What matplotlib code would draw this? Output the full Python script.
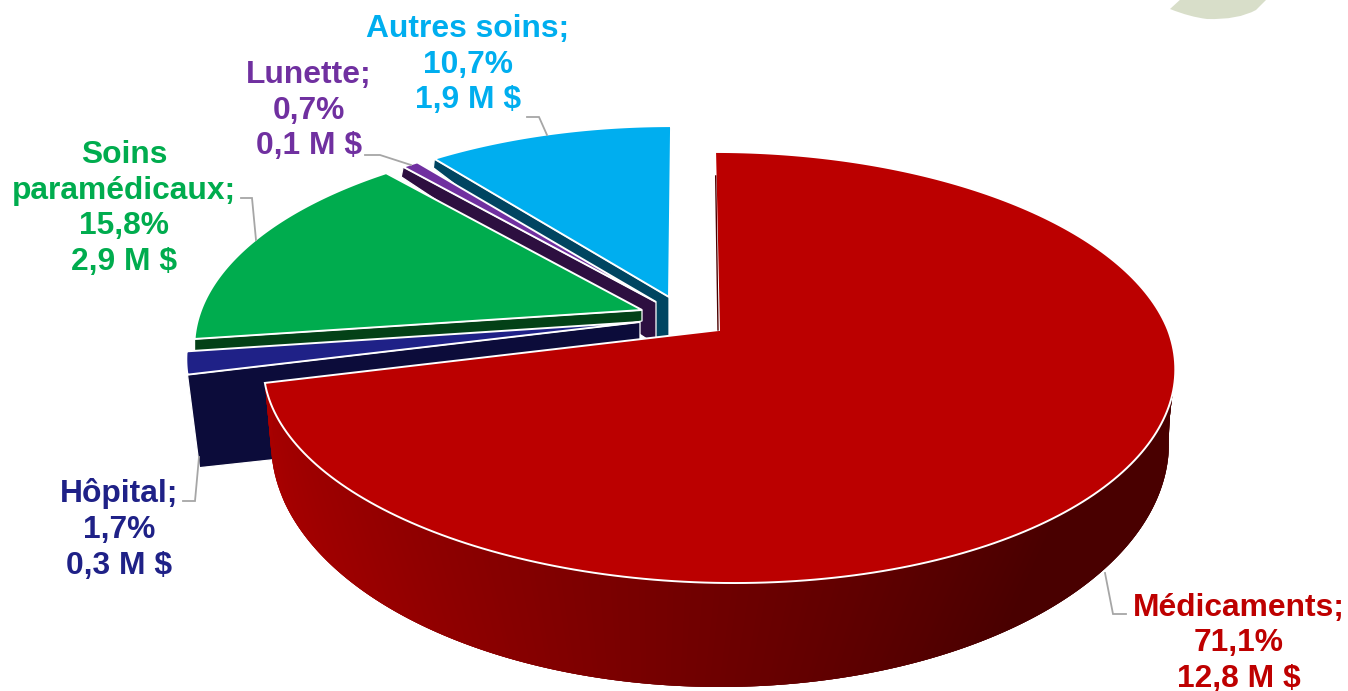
import numpy as np
import matplotlib
matplotlib.use("Agg")
import matplotlib.pyplot as plt
from matplotlib.collections import PolyCollection
from matplotlib.path import Path
from matplotlib.patches import PathPatch, Polygon

# ---- data (clockwise from 12 o'clock) ----
categories = ["Médicaments", "Hôpital", "Soins\nparamédicaux", "Lunette", "Autres soins"]
shares = [71.1, 1.7, 15.8, 0.7, 10.7]
share_labels = ["71,1%", "1,7%", "15,8%", "0,7%", "10,7%"]
amount_labels = ["12,8 M $", "0,3 M $", "2,9 M $", "0,1 M $", "1,9 M $"]

# ---- style / layout (pixel space of the picture) ----
top_colors = ["#BB0000", "#1F2187", "#00AC4E", "#7030A0", "#00AEEF"]
face_colors = ["#4A0000", "#0C0C3A", "#034117", "#2D0F40", "#004561"]
text_colors = ["#BE0000", "#1F2187", "#00AC4E", "#7030A0", "#00AEEF"]
apexes = [(719, 330), (640, 322), (642, 310), (656, 302), (669, 297)]
scales = [1.0, 0.995, 0.982, 0.97, 0.96]
shears_up = [-0.022, 0, 0, 0, 0.012]
shears_down = [-0.06, 0, 0, 0, 0]
# cut-face depth: (apex dx, apex dy, rim dx, rim dy)
depths = [None, (0, 98, 12, 93), (0, 11, 0, 60), (0, 43, -2, 10), (0, 50, -1, 9)]
label_pos = [(1239, 643.5), (119, 529.5), (124, 208.5), (309, 110.5), (468, 64.5)]
leaders = [[(1126, 614), (1113, 614), (1105, 573)],
           [(183, 501), (195, 501), (199, 457)],
           [(241, 198), (252, 198), (256, 240)],
           [(365, 155), (380, 155), (411, 165)],
           [(527, 117), (539, 117), (547, 135)]]
K, A, B = 0.174, 449.0, 209.0
BOT_CX, BOT_CY, BOT_RX, BOT_RY = 720.0, 443.0, 449.0, 244.0
LOWER_SPAN = 253.0
WALL_X = [270, 300, 500, 700, 900, 1010, 1180]
WALL_R = [0.66, 0.64, 0.54, 0.44, 0.34, 0.285, 0.285]

plt.rcParams["font.family"] = ["Liberation Sans", "DejaVu Sans"]
fig = plt.figure(figsize=(13.48, 6.91), dpi=100)
ax = fig.add_axes([0, 0, 1, 1])
ax.set_xlim(0, 1348)
ax.set_ylim(691, 0)
ax.axis("off")

edges = np.concatenate([[0], np.cumsum(shares)]) / np.sum(shares) * 360.0


def rim(theta, i):
    t = np.radians(theta)
    u, v = np.sin(t), np.cos(t)
    w = 1 + K * v
    X = scales[i] * A * u / w
    Y = scales[i] * B * v / w
    skew = np.where(Y >= 0, shears_up[i] * Y, -shears_down[i] * Y * Y / LOWER_SPAN)
    return apexes[i][0] + X + skew, apexes[i][1] - Y


def top_points(i):
    th = np.linspace(edges[i], edges[i + 1], 240)
    x, y = rim(th, i)
    return np.column_stack([np.r_[apexes[i][0], x], np.r_[apexes[i][1], y]])


def top_face(i, z):
    return Polygon(top_points(i), closed=True, facecolor=top_colors[i], edgecolor="white",
                   linewidth=1.4, joinstyle="miter", zorder=z)


def cut_face(i, z):
    rx, ry = rim(edges[i], i)
    ax_, ay_ = apexes[i]
    d = depths[i]
    pts = [(rx, ry), (ax_, ay_), (ax_ + d[0], ay_ + d[1]), (rx + d[2], ry + d[3])]
    return Polygon(pts, closed=True, facecolor=face_colors[i], edgecolor="white",
                   linewidth=0.9, zorder=z)


# decorative leaf cut by the top of the picture
leaf = Path([(1182, -2), (1170, 9), (1190, 17), (1207, 19), (1238, 20), (1256, 10), (1268, -2)],
            [Path.MOVETO, Path.LINETO, Path.CURVE3, Path.CURVE3, Path.CURVE3, Path.CURVE3, Path.LINETO])
ax.add_patch(PathPatch(leaf, facecolor="#D8DEC9", edgecolor="none", zorder=1))

# small slices, back to front
z = 10
for i in [4, 3, 2, 1]:
    ax.add_patch(cut_face(i, z))
    ax.add_patch(top_face(i, z + 1))
    z += 2

# outer wall of the large slice
th = np.linspace(70, edges[1], 300)
tx, ty = rim(th, 0)
phi = np.radians(th)
bx = BOT_CX + BOT_RX * np.sin(phi)
by = BOT_CY - BOT_RY * np.cos(phi)
ext = np.radians(np.linspace(edges[1], 276, 16))
ex = BOT_CX + BOT_RX * np.sin(ext)
ey = BOT_CY - BOT_RY * np.cos(ext)
tx = np.r_[tx, np.full(ext.size, tx[-1])]
ty = np.r_[ty, np.full(ext.size, ty[-1])]
bx = np.r_[bx, ex]
by = np.r_[by, ey]
n = len(tx)
quads = [[(tx[j], ty[j]), (tx[min(j + 3, n - 1)], ty[min(j + 3, n - 1)]),
          (bx[min(j + 3, n - 1)], by[min(j + 3, n - 1)]), (bx[j], by[j])]
         for j in range(n - 1)]
reds = np.interp(bx[:-1], WALL_X, WALL_R)
cols = [(r, 0, 0, 1) for r in reds]
ax.add_collection(PolyCollection(quads, facecolors=cols, edgecolors="none", zorder=30))

# large slice top, with the thin visible sliver of its cut face at 12 o'clock
ax.add_patch(top_face(0, 31))
x0, y0 = rim(0.0, 0)
ax.plot([x0 + 0.6, apexes[0][0] - 1], [y0 + 24, apexes[0][1]], color="#4A0000", lw=1.0, zorder=32)

# leader lines
for pts in leaders:
    xs, ys = zip(*pts)
    ax.plot(xs, ys, color="#A6A6A6", lw=1.3, zorder=40, solid_joinstyle="miter")

# labels
for i, cat in enumerate(categories):
    ax.text(label_pos[i][0], label_pos[i][1], f"{cat};\n{share_labels[i]}\n{amount_labels[i]}",
            ha="center", va="center", multialignment="center", fontsize=22.9, fontweight="bold",
            color=text_colors[i], linespacing=1.255, zorder=50)

fig.savefig("out.png", dpi=100, facecolor="white")
